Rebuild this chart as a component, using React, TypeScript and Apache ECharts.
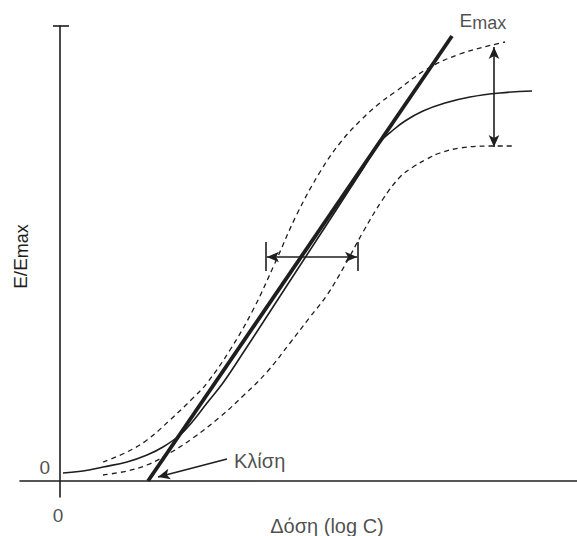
import React, { useEffect, useRef } from "react";
import * as echarts from "echarts";

// Axis extents (x: log dose, y: E/Emax)
const xRange: [number, number] = [-0.4, 5.17];
const yRange: [number, number] = [-0.04, 1.1375];
const xTickLabels: number[] = [0];
const yTickLabels: number[] = [0];

// Reference concentration-effect curve (solid)
const solidCurve: [number, number][] = [
  [0.03, 0.02], [0.23, 0.025], [0.43, 0.035], [0.67, 0.0475], [0.87, 0.065],
  [1.03, 0.085], [1.2, 0.115], [1.33, 0.15], [1.47, 0.195], [1.629, 0.245],
  [1.843, 0.325], [2.052, 0.405], [2.26, 0.485], [2.462, 0.5625], [2.664, 0.64],
  [2.859, 0.715], [3.04, 0.785], [3.19, 0.845], [3.32, 0.875], [3.45, 0.9],
  [3.63, 0.925], [3.85, 0.945], [4.1, 0.96], [4.4, 0.97], [4.72, 0.975],
];

// Upper dashed curve
const upperDashed: [number, number][] = [
  [0.43, 0.0475], [0.67, 0.0725], [0.87, 0.1025], [1.1, 0.1525], [1.33, 0.2075],
  [1.47, 0.245], [1.7, 0.3275], [1.93, 0.4275], [2.15, 0.545], [2.37, 0.6675],
  [2.6, 0.7725], [2.8, 0.845], [3.02, 0.905], [3.2, 0.945], [3.35, 0.9725],
  [3.67, 1.03], [4.0, 1.0675], [4.4, 1.095], [4.45, 1.0975],
];

// Lower dashed curve
const lowerDashed: [number, number][] = [
  [0.43, 0.015], [0.67, 0.025], [0.87, 0.04], [1.1, 0.07], [1.33, 0.1075],
  [1.6, 0.16], [1.83, 0.2125], [2.07, 0.2725], [2.3, 0.345], [2.5, 0.41],
  [2.67, 0.465], [2.85, 0.54], [3.03, 0.6225], [3.23, 0.705], [3.4, 0.76],
  [3.53, 0.785], [3.67, 0.805], [3.8, 0.82], [4.0, 0.8325], [4.3, 0.8375],
  [4.55, 0.8375],
];

// Tangent (slope) line
const slopeLine: [number, number][] = [[0.88, 0], [3.92, 1.1125]];

// Annotation geometry (data coordinates)
const potencyArrow: [number, number][] = [[2.07, 0.56], [2.97, 0.56]];
const potencyBarLeft: [number, number][] = [[2.06, 0.5975], [2.06, 0.525]];
const potencyBarRight: [number, number][] = [[2.98, 0.5975], [2.98, 0.525]];
const efficacyArrow: [number, number][] = [[4.34, 1.085], [4.34, 0.835]];
const slopePointer: [number, number][] = [[1.67, 0.055], [0.98, 0.01]];
const axisCap: [number, number][] = [[-0.07, 1.1375], [0.09, 1.1375]];

// Text anchors (data coordinates)
const emaxLabelAt: [number, number] = [3.995, 1.151];
const slopeLabelAt: [number, number] = [1.74, 0.049];
const xTickLabelAt: [number, number] = [-0.02, -0.085];
const yTickLabelAt: [number, number] = [-0.1, 0.034];
const xTitleAt: [number, number] = [2.67, -0.1135];
const xTitle = "Δόση (log C)";
const yTitle = "{e|E/E}{s|max}";

const INK = "#1e1e1e";
const FONT = "'Liberation Sans', Arial, Helvetica, sans-serif";

export default function App() {
  const ref = useRef<HTMLDivElement>(null);

  useEffect(() => {
    if (!ref.current) return;
    const chart = echarts.init(ref.current, undefined, { renderer: "svg" });

    const sub = { fontSize: 18, color: INK, fontFamily: FONT, padding: [4, 0, 0, 0] };
    const big = { fontSize: 19, color: INK, fontFamily: FONT };

    const textItem = (
      at: [number, number],
      formatter: string,
      align: string,
      extra: any = {}
    ) => ({
      value: at,
      label: {
        show: true,
        position: [0, 0],
        align,
        verticalAlign: "middle",
        formatter,
        fontSize: 20,
        color: INK,
        fontFamily: FONT,
        textBorderWidth: 0,
        ...extra,
      },
    });

    const option: any = {
      animation: false,
      backgroundColor: "#ffffff",
      color: [INK],
      textStyle: { fontFamily: FONT, color: INK },
      grid: {
        left: 20,
        right: 0,
        top: 26,
        bottom: 39,
        containLabel: false,
        outerBoundsMode: "none",
      },
      xAxis: {
        type: "value",
        min: xRange[0],
        max: xRange[1],
        axisLine: { show: true, onZero: true, lineStyle: { color: INK, width: 1.6 } },
        axisTick: { show: false },
        splitLine: { show: false },
        axisLabel: { show: false },
      },
      yAxis: {
        type: "value",
        min: yRange[0],
        max: yRange[1],
        axisLine: { show: true, onZero: true, lineStyle: { color: INK, width: 1.6 } },
        axisTick: { show: false },
        splitLine: { show: false },
        axisLabel: { show: false },
        name: yTitle,
        nameLocation: "middle",
        nameRotate: 90,
        nameGap: -11,
        nameTextStyle: {
          color: INK,
          fontFamily: FONT,
          padding: [0, 0, 0, 10],
          rich: { e: big, s: sub },
        },
      },
      series: [
        {
          name: "axisCap",
          type: "line",
          data: axisCap,
          symbol: "none",
          clip: false,
          silent: true,
          lineStyle: { color: INK, width: 1.6 },
        },
        {
          name: "upper",
          type: "line",
          data: upperDashed,
          symbol: "none",
          smooth: 0.4,
          silent: true,
          lineStyle: { color: INK, width: 1.3, type: [5, 4] },
        },
        {
          name: "lower",
          type: "line",
          data: lowerDashed,
          symbol: "none",
          smooth: 0.4,
          silent: true,
          lineStyle: { color: INK, width: 1.3, type: [5, 4] },
        },
        {
          name: "reference",
          type: "line",
          data: solidCurve,
          symbol: "none",
          smooth: 0.4,
          silent: true,
          lineStyle: { color: INK, width: 1.6 },
          markLine: {
            silent: true,
            symbol: ["arrow", "arrow"],
            symbolSize: [8, 12],
            label: { show: false },
            emphasis: { disabled: true },
            itemStyle: { color: INK },
            lineStyle: { color: INK, width: 1.6, type: "solid" },
            data: [
              [{ coord: potencyArrow[0] }, { coord: potencyArrow[1] }],
              [{ coord: efficacyArrow[0] }, { coord: efficacyArrow[1] }],
              [
                { coord: potencyBarLeft[0], symbol: "none" },
                { coord: potencyBarLeft[1], symbol: "none" },
              ],
              [
                { coord: potencyBarRight[0], symbol: "none" },
                { coord: potencyBarRight[1], symbol: "none" },
              ],
              [
                { coord: slopePointer[0], symbol: "none" },
                { coord: slopePointer[1], symbol: "arrow" },
              ],
            ],
          },
        },
        {
          name: "slope",
          type: "line",
          data: slopeLine,
          symbol: "none",
          clip: false,
          silent: true,
          lineStyle: { color: INK, width: 3.8 },
        },
        {
          name: "labels",
          type: "scatter",
          symbolSize: 0,
          clip: false,
          silent: true,
          itemStyle: { color: INK },
          data: [
            textItem(emaxLabelAt, "{e|E}{s|max}", "left", { rich: { e: big, s: sub } }),
            textItem(slopeLabelAt, "Κλίση", "left"),
            textItem(xTickLabelAt, String(xTickLabels[0]), "center", { fontSize: 19 }),
            textItem(yTickLabelAt, String(yTickLabels[0]), "right", { fontSize: 19 }),
            textItem(xTitleAt, xTitle, "center"),
          ],
        },
      ],
    };

    chart.setOption(option);
    return () => chart.dispose();
  }, []);

  return (
    <div
      ref={ref}
      style={{ position: "fixed", left: 0, top: 0, width: 577, height: 536, background: "#fff" }}
    />
  );
}
